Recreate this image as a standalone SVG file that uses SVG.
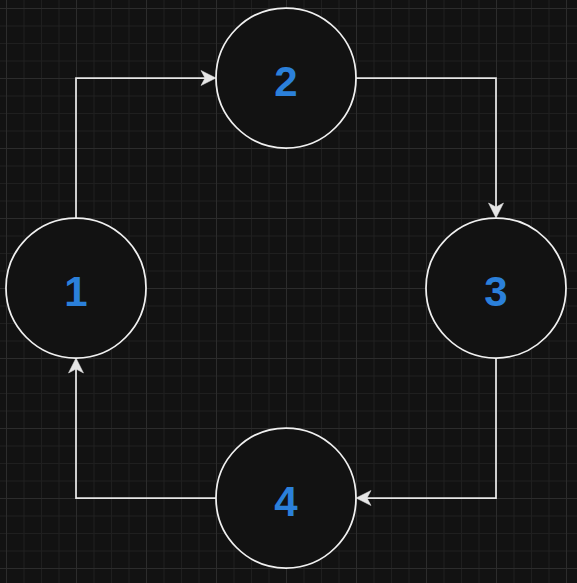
<svg xmlns="http://www.w3.org/2000/svg" width="577" height="583" viewBox="0 0 577 583">
  <style>
    .node circle { fill: #121212; stroke: #f0f0f0; stroke-width: 1.75; }
    .node text { font-family: "Liberation Sans", Arial, sans-serif; font-weight: bold; font-size: 42px; fill: #2b80da; text-anchor: middle; }
    .edge { fill: none; stroke: #e6e6e6; stroke-width: 1.75; marker-end: url(#arrow); }
  </style>
  <defs>
    <pattern id="grid" patternUnits="userSpaceOnUse" x="6" y="8" width="70" height="70">
      <g stroke="#1f1f1f" stroke-width="1">
        <line x1="18" y1="0" x2="18" y2="70"/>
        <line x1="35.5" y1="0" x2="35.5" y2="70"/>
        <line x1="53" y1="0" x2="53" y2="70"/>
        <line x1="0" y1="18" x2="70" y2="18"/>
        <line x1="0" y1="35.5" x2="70" y2="35.5"/>
        <line x1="0" y1="53" x2="70" y2="53"/>
      </g>
      <g stroke="#2c2c2c" stroke-width="1">
        <line x1="0.5" y1="0" x2="0.5" y2="70"/>
        <line x1="0" y1="0.5" x2="70" y2="0.5"/>
      </g>
    </pattern>
    <marker id="arrow" markerUnits="userSpaceOnUse" viewBox="-16 -9 17 18" markerWidth="17" markerHeight="18" refX="-11" refY="0" orient="auto">
      <path d="M0,0 L-15,-7.5 L-11,0 L-15,7.5 Z" fill="#e6e6e6" stroke="#e6e6e6" stroke-width="0.5" stroke-linejoin="miter"/>
    </marker>
  </defs>
  <rect x="0" y="0" width="577" height="583" fill="#121212"/>
  <rect x="0" y="0" width="577" height="583" fill="url(#grid)"/>

  <g id="connectors">
    <path class="edge" d="M76,218 V78 H205"/>
    <path class="edge" d="M356,78 H496 V207"/>
    <path class="edge" d="M496,358 V498 H367"/>
    <path class="edge" d="M216,498 H76 V369"/>
  </g>

  <g id="node1" class="node">
    <circle cx="76" cy="288" r="70"/>
    <text x="76" y="305.5">1</text>
  </g>
  <g id="node2" class="node">
    <circle cx="286" cy="78" r="70"/>
    <text x="286" y="95.5">2</text>
  </g>
  <g id="node3" class="node">
    <circle cx="496" cy="288" r="70"/>
    <text x="496" y="305.5">3</text>
  </g>
  <g id="node4" class="node">
    <circle cx="286" cy="498" r="70"/>
    <text x="286" y="515.5">4</text>
  </g>
</svg>
